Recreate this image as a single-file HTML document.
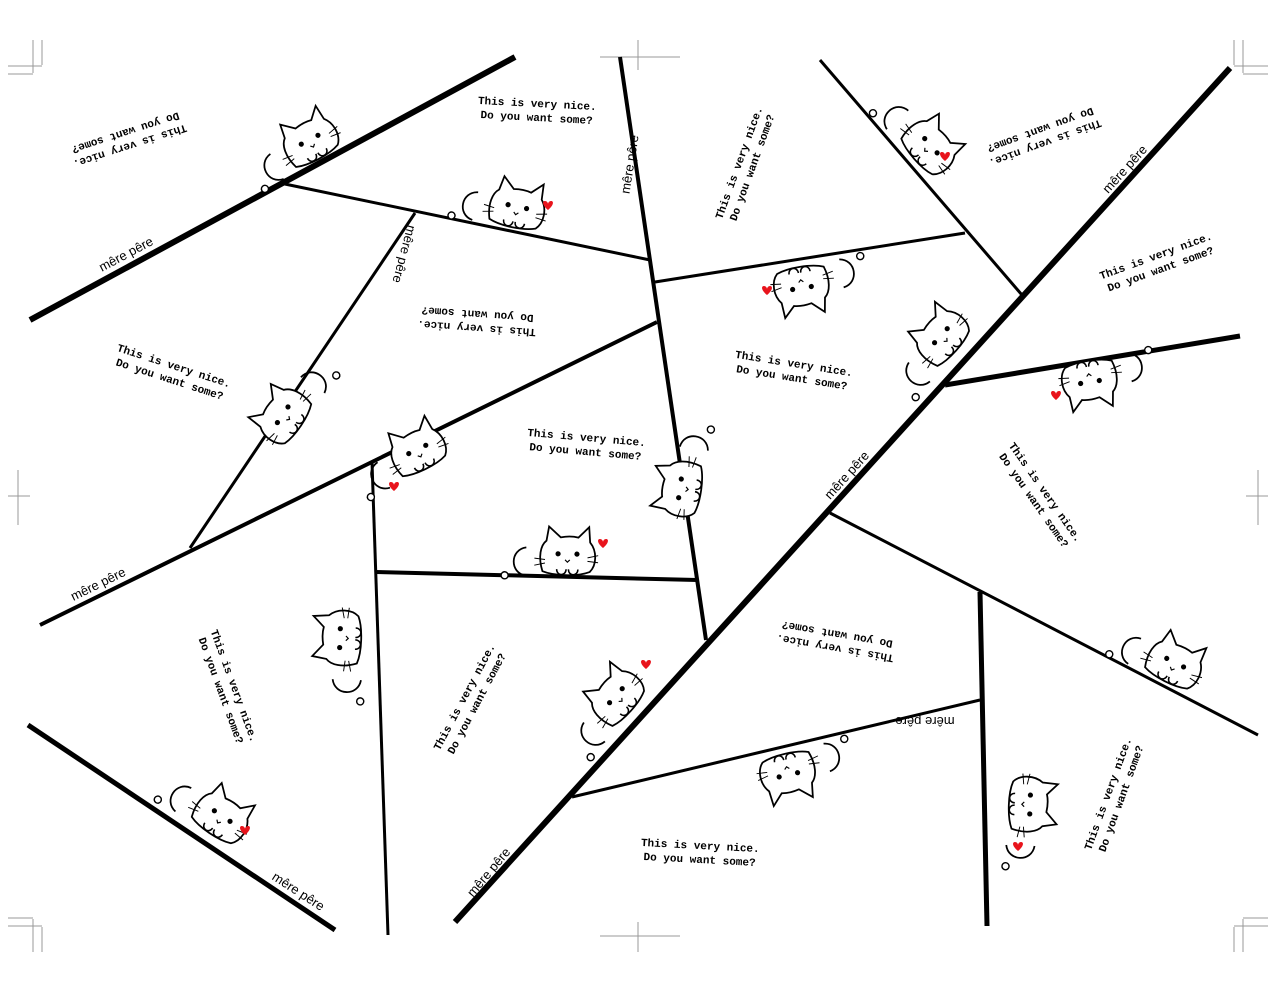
<!DOCTYPE html>
<html><head><meta charset="utf-8"><style>
html,body{margin:0;padding:0;background:#fff;}
svg{display:block}
.t{font-family:"Liberation Mono",monospace;font-weight:bold;font-size:11px;fill:#000;text-anchor:middle}
.m{font-family:"Liberation Sans",sans-serif;font-size:13px;fill:#000;text-anchor:middle}
.c{stroke:#999;stroke-width:1;fill:none}
</style></head><body>
<svg width="1276" height="992" viewBox="0 0 1276 992" xmlns="http://www.w3.org/2000/svg">
<defs>
<g id="cat"><g transform="scale(1.18)">
  <path d="M-34,2 C-48,0 -48,-20 -34,-22" fill="none" stroke="#000" stroke-width="1.5"/>
  <path d="M-20,-2 C-24,-14 -22,-24 -17,-28 L-15,-40 L-5,-31 C0,-32 6,-32 10,-31 L19,-40 L20,-27 C26,-20 26,-8 20,-2 C10,2 -10,2 -20,-2 Z" fill="#fff" stroke="#000" stroke-width="1.5"/>
  <circle cx="-7" cy="-17" r="2.2"/><circle cx="9" cy="-17" r="2.2"/>
  <path d="M-1,-12 l2,2 l2,-2" fill="none" stroke="#000" stroke-width="1"/>
  <path d="M18,-14 l9,-2 M18,-11 l9,1 M-18,-12 l-9,-1 M-18,-9 l-9,2" stroke="#000" stroke-width="0.8"/>
  <path d="M-8,-4 c0,6 8,6 8,0 M2,-4 c0,6 8,6 8,0" fill="#fff" stroke="#000" stroke-width="1.3"/>
  <circle cx="-52" cy="2" r="3" fill="#fff" stroke="#000" stroke-width="1.2"/>
</g></g>
<path id="heart" d="M0,3 C-6,-2 -6,-6 -3,-6 C-1,-6 0,-4 0,-3 C0,-4 1,-6 3,-6 C6,-6 6,-2 0,3 Z" fill="#e8141c"/>
</defs>

<path class="c" d="M33,40V73M42,40V65M8,66H42M8,74H33"/>
<path class="c" d="M1243,40V73M1234,40V65M1268,66H1234M1268,74H1243"/>
<path class="c" d="M33,952V919M42,952V927M8,926H42M8,918H33"/>
<path class="c" d="M1243,952V919M1234,952V927M1268,926H1234M1268,918H1243"/>
<path class="c" d="M600,57H680M638,40V70M600,936H680M638,922V952"/>
<path class="c" d="M8,496H30M18,470V525M1268,496H1246M1258,470V525"/>

<g stroke="#000" stroke-linecap="butt" fill="none">
<line x1="30" y1="320" x2="515" y2="57" stroke-width="6"/>
<line x1="40" y1="625" x2="657" y2="322" stroke-width="4"/>
<line x1="455" y1="922" x2="1230" y2="68" stroke-width="6"/>
<line x1="28" y1="725" x2="335" y2="930" stroke-width="5"/>
<line x1="945" y1="385" x2="1240" y2="336" stroke-width="5"/>
<line x1="375" y1="572" x2="697" y2="580" stroke-width="4"/>
<line x1="980" y1="592" x2="987" y2="926" stroke-width="5"/>
<line x1="620" y1="57" x2="706" y2="640" stroke-width="4"/>
<line x1="280" y1="183" x2="650" y2="260" stroke-width="3"/>
<line x1="415" y1="213" x2="190" y2="548" stroke-width="3"/>
<line x1="655" y1="282" x2="965" y2="233" stroke-width="3"/>
<line x1="820" y1="60" x2="1022" y2="295" stroke-width="3"/>
<line x1="372" y1="462" x2="388" y2="935" stroke-width="3"/>
<line x1="830" y1="513" x2="1258" y2="735" stroke-width="3"/>
<line x1="572" y1="797" x2="980" y2="700" stroke-width="3"/>
</g>

<use href="#cat" transform="translate(318,158) rotate(-28)"/>
<use href="#cat" transform="translate(512,226) rotate(12)"/>
<use href="#heart" transform="translate(548,207)"/>
<use href="#cat" transform="translate(300,425) rotate(-56) scale(1,-1) rotate(180)"/>
<use href="#cat" transform="translate(425,468) rotate(-26)"/>
<use href="#heart" transform="translate(394,488)"/>
<use href="#cat" transform="translate(566,574) rotate(1)"/>
<use href="#heart" transform="translate(603,545)"/>
<use href="#cat" transform="translate(800,268) rotate(171)"/>
<use href="#heart" transform="translate(767,292)"/>
<use href="#cat" transform="translate(915,158) rotate(49)"/>
<use href="#heart" transform="translate(945,158)"/>
<use href="#cat" transform="translate(955,350) rotate(-48)"/>
<use href="#cat" transform="translate(1088,362) rotate(171)"/>
<use href="#heart" transform="translate(1056,397)"/>
<use href="#cat" transform="translate(700,490) rotate(98) scale(1,-1)"/>
<use href="#cat" transform="translate(360,640) rotate(-88)"/>
<use href="#cat" transform="translate(630,710) rotate(-48)"/>
<use href="#heart" transform="translate(646,666)"/>
<use href="#cat" transform="translate(785,755) rotate(167)"/>
<use href="#cat" transform="translate(1010,805) rotate(-88) scale(1,-1)"/>
<use href="#heart" transform="translate(1018,848)"/>
<use href="#cat" transform="translate(1165,680) rotate(27)"/>
<use href="#cat" transform="translate(210,832) rotate(34)"/>
<use href="#heart" transform="translate(245,832)"/>

<g class="t">
<text transform="translate(128,140) rotate(162)"><tspan x="0" y="-3">This is very nice.</tspan><tspan x="0" y="11">Do you want some?</tspan></text>
<text transform="translate(537,110) rotate(3)"><tspan x="0" y="-3">This is very nice.</tspan><tspan x="0" y="11">Do you want some?</tspan></text>
<text transform="translate(745,165) rotate(-70)"><tspan x="0" y="-3">This is very nice.</tspan><tspan x="0" y="11">Do you want some?</tspan></text>
<text transform="translate(1043,137) rotate(160)"><tspan x="0" y="-3">This is very nice.</tspan><tspan x="0" y="11">Do you want some?</tspan></text>
<text transform="translate(1158,262) rotate(-20)"><tspan x="0" y="-3">This is very nice.</tspan><tspan x="0" y="11">Do you want some?</tspan></text>
<text transform="translate(172,372) rotate(18)"><tspan x="0" y="-3">This is very nice.</tspan><tspan x="0" y="11">Do you want some?</tspan></text>
<text transform="translate(477,322) rotate(184)"><tspan x="0" y="-3">This is very nice.</tspan><tspan x="0" y="11">Do you want some?</tspan></text>
<text transform="translate(793,370) rotate(9)"><tspan x="0" y="-3">This is very nice.</tspan><tspan x="0" y="11">Do you want some?</tspan></text>
<text transform="translate(586,444) rotate(5)"><tspan x="0" y="-3">This is very nice.</tspan><tspan x="0" y="11">Do you want some?</tspan></text>
<text transform="translate(1040,496) rotate(55)"><tspan x="0" y="-3">This is very nice.</tspan><tspan x="0" y="11">Do you want some?</tspan></text>
<text transform="translate(228,688) rotate(70)"><tspan x="0" y="-3">This is very nice.</tspan><tspan x="0" y="11">Do you want some?</tspan></text>
<text transform="translate(470,700) rotate(-62)"><tspan x="0" y="-3">This is very nice.</tspan><tspan x="0" y="11">Do you want some?</tspan></text>
<text transform="translate(836,642) rotate(190)"><tspan x="0" y="-3">This is very nice.</tspan><tspan x="0" y="11">Do you want some?</tspan></text>
<text transform="translate(700,852) rotate(3)"><tspan x="0" y="-3">This is very nice.</tspan><tspan x="0" y="11">Do you want some?</tspan></text>
<text transform="translate(1114,796) rotate(-70)"><tspan x="0" y="-3">This is very nice.</tspan><tspan x="0" y="11">Do you want some?</tspan></text>
</g>

<g class="m">
<text transform="translate(128,258) rotate(-28)">mêre pêre</text>
<text transform="translate(634,165) rotate(-81)">mêre pêre</text>
<text transform="translate(1128,172) rotate(-48)">mêre pêre</text>
<text transform="translate(400,253) rotate(105)">mêre pêre</text>
<text transform="translate(850,478) rotate(-48)">mêre pêre</text>
<text transform="translate(100,588) rotate(-26)">mêre pêre</text>
<text transform="translate(925,717) rotate(180)">mêre pêre</text>
<text transform="translate(492,875) rotate(-50)">mêre pêre</text>
<text transform="translate(296,895) rotate(33)">mêre pêre</text>
</g>
</svg>
</body></html>
